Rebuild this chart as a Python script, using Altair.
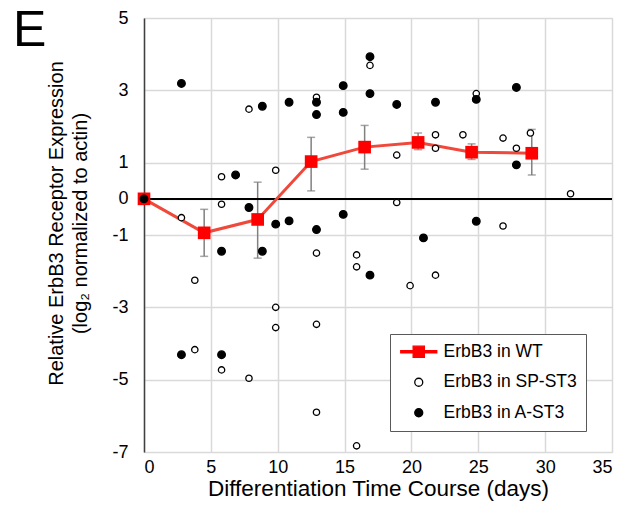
import altair as alt
import pandas as pd

FONT = "Liberation Sans"

# WT mean series with error bars
wt_day = [0, 4.5, 8.5, 12.5, 16.5, 20.5, 24.5, 29.0]
wt_mean = [0, -0.94, -0.57, 1.03, 1.43, 1.56, 1.29, 1.26]
wt_lo = [0, -1.59, -1.64, 0.22, 0.82, 1.36, 1.09, 0.66]
wt_hi = [0, -0.29, 0.46, 1.70, 2.03, 1.82, 1.52, 1.92]

# SP-ST3 (open circles)
sp_day = [0, 2.8, 3.8, 3.8, 5.8, 5.8, 5.8, 7.85, 7.85, 9.85, 9.85, 9.85,
          12.9, 12.9, 12.9, 12.9, 15.9, 15.9, 15.9, 16.9, 18.9, 18.9, 19.9,
          21.8, 21.8, 21.8, 23.85, 24.85, 26.85, 26.85, 27.85, 28.9, 31.9]
sp_val = [0, -0.52, -2.25, -4.17, 0.61, -0.15, -4.73, 2.48, -4.96, 0.79, -3.0, -3.56,
          2.81, -1.5, -3.47, -5.9, -1.55, -1.88, -6.83, 3.69, 1.21, -0.10, -2.40,
          1.77, 1.40, -2.11, 1.77, 2.91, 1.68, -0.75, 1.40, 1.82, 0.14]

# A-ST3 (filled circles)
a_day = [0, 2.8, 2.8, 5.8, 5.8, 6.85, 7.85, 8.85, 8.85, 9.85, 10.85, 10.85,
         12.9, 12.9, 12.9, 14.9, 14.9, 14.9, 16.9, 16.9, 16.9, 18.9, 20.9,
         21.8, 24.85, 24.85, 27.85, 27.85]
a_val = [0, 3.19, -4.31, -1.45, -4.31, 0.66, -0.24, 2.56, -1.45, -0.70, 2.67, -0.61,
         2.67, 2.33, -0.85, 3.13, 2.39, -0.43, 3.93, 2.91, -2.11, 2.61, -1.08,
         2.67, 2.75, -0.62, 3.08, 0.94]

series_names = ["ErbB3 in WT", "ErbB3 in SP-ST3", "ErbB3 in A-ST3"]
x_ticks = [0, 5, 10, 15, 20, 25, 30, 35]
y_ticks = [-7, -5, -3, -1, 0, 1, 3, 5]
panel_label = ["E"]

wt = pd.DataFrame({"day": wt_day, "mean": wt_mean, "lo": wt_lo, "hi": wt_hi})
err = wt[wt["lo"] != wt["hi"]]
sp = pd.DataFrame({"day": sp_day, "val": sp_val, "series": series_names[1]})
ast = pd.DataFrame({"day": a_day, "val": a_val, "series": series_names[2]})
lab = pd.DataFrame({"t": panel_label})

xs = alt.Scale(domain=[0, 35], nice=False)
ys = alt.Scale(domain=[-7, 5], nice=False)

x_axis = alt.Axis(values=x_ticks, grid=True, gridColor="#d9d9d9", gridWidth=1.5,
                  domain=False, ticks=False, labelFontSize=18, labelFont=FONT,
                  labelColor="#000", labelPadding=6, titleFontSize=22.5, titleFont=FONT,
                  titleFontWeight="normal", titleColor="#000", titlePadding=1,
                  title="Differentiation Time Course (days)")
y_axis = alt.Axis(values=y_ticks, grid=True, gridColor="#d9d9d9", gridWidth=1.5,
                  domain=True, domainColor="#404040", domainWidth=1.5, ticks=False,
                  labelFontSize=18, labelFont=FONT, labelColor="#000", labelPadding=16,
                  labelExpr="'' + datum.value",
                  titleFontSize=20, titleFont=FONT, titleFontWeight="normal",
                  titleColor="#000", titleLineHeight=24, titleX=-78, titleY=205,
                  title=["Relative ErbB3 Receptor Expression", "(log₂ normalized to actin)"])

wt_path = "M-4.5,-0.25H4.5V0.25H-4.5Z M-1.4,-1.4H1.4V1.4H-1.4Z"
shape_scale = alt.Scale(domain=series_names, range=[wt_path, "circle", "circle"])
fill_scale = alt.Scale(domain=series_names, range=["#ff0000", "#ffffff", "#000000"])
stroke_scale = alt.Scale(domain=series_names, range=["#ff0000", "#000000", "#000000"])
legend = alt.Legend(title=None, orient="none", legendX=246, legendY=316, padding=9,
                    strokeColor="#595959", fillColor="#ffffff", labelFontSize=17.5,
                    labelFont=FONT, labelColor="#000", symbolSize=64,
                    symbolStrokeWidth=1.3, rowPadding=11.5, symbolOffset=11,
                    labelOffset=16)

zero = alt.Chart(wt).mark_rule(color="#000000", strokeWidth=1.3).encode(y=alt.datum(0, scale=ys))

err_rule = alt.Chart(err).mark_rule(color="#808080", strokeWidth=1.5).encode(
    x=alt.X("day:Q", scale=xs, axis=x_axis), y=alt.Y("lo:Q", scale=ys, axis=y_axis), y2="hi:Q")
cap_lo = alt.Chart(err).mark_tick(color="#808080", orient="horizontal", size=8, thickness=1.5).encode(
    x=alt.X("day:Q", scale=xs), y=alt.Y("lo:Q", scale=ys))
cap_hi = alt.Chart(err).mark_tick(color="#808080", orient="horizontal", size=8, thickness=1.5).encode(
    x=alt.X("day:Q", scale=xs), y=alt.Y("hi:Q", scale=ys))

wt_line = alt.Chart(wt).mark_line(color="#f0483a", strokeWidth=3).encode(
    x=alt.X("day:Q", scale=xs), y=alt.Y("mean:Q", scale=ys))
wt_pts = alt.Chart(wt).mark_point(shape="square", filled=True, color="#ff0000", size=160, opacity=1).encode(
    x=alt.X("day:Q", scale=xs), y=alt.Y("mean:Q", scale=ys))

def scatter(df, size):
    return alt.Chart(df).mark_point(filled=True, size=size, strokeWidth=1.3, opacity=1).encode(
        x=alt.X("day:Q", scale=xs),
        y=alt.Y("val:Q", scale=ys),
        shape=alt.Shape("series:N", scale=shape_scale, legend=legend),
        fill=alt.Fill("series:N", scale=fill_scale, legend=legend),
        stroke=alt.Stroke("series:N", scale=stroke_scale, legend=legend),
    )

sp_pts = scatter(sp, 40)
a_pts = scatter(ast, 58)

label = alt.Chart(lab).mark_text(align="left", baseline="alphabetic", fontSize=50,
                                 font=FONT, color="#000").encode(
    text="t:N", x=alt.value(-131), y=alt.value(28))

chart = alt.layer(err_rule, zero, cap_lo, cap_hi, wt_line, wt_pts, sp_pts, a_pts, label).properties(
    width=468, height=434,
    autosize=alt.AutoSizeParams(type="none"),
    padding={"left": 144, "top": 18, "right": 16, "bottom": 54},
).configure_view(strokeWidth=0).configure(background="#ffffff")

chart.save("out.html", embed_options={"renderer": "svg", "actions": False})
